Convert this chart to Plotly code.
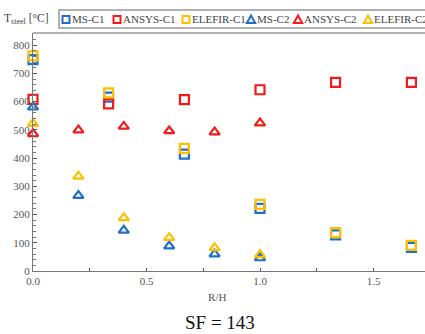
import plotly.graph_objects as go

# ---- data ----
x_c1 = [0.0, 0.333, 0.667, 1.0, 1.333, 1.667]
ms_c1 = [749, 616, 414, 222, 128, 84]
ansys_c1 = [608, 592, 607, 642, 668, 668]
elefir_c1 = [762, 631, 434, 236, 136, 91]

x_c2 = [0.0, 0.2, 0.4, 0.6, 0.8, 1.0]
ms_c2 = [580, 267, 144, 88, 60, 46]
ansys_c2 = [486, 499, 512, 496, 492, 524]
elefir_c2 = [522, 335, 188, 118, 82, 57]

names = ["MS-C1", "ANSYS-C1", "ELEFIR-C1", "MS-C2", "ANSYS-C2", "ELEFIR-C2"]
y_ticks = [0, 100, 200, 300, 400, 500, 600, 700, 800]
x_ticks = [0.0, 0.5, 1.0, 1.5]
x_tick_text = ["0.0", "0.5", "1.0", "1.5"]

BLUE = "#1f6fc6"
RED = "#f51a1a"
YEL = "#ffbf00"
colors = [BLUE, RED, YEL, BLUE, RED, YEL]
symbols = ["square-open"] * 3 + ["triangle-up-open"] * 3
series = [(x_c1, ms_c1), (x_c1, ansys_c1), (x_c1, elefir_c1),
          (x_c2, ms_c2), (x_c2, ansys_c2), (x_c2, elefir_c2)]

FONT = "Liberation Serif"

fig = go.Figure()
for (xs, ys), n, c, s in zip(series, names, colors, symbols):
    fig.add_trace(go.Scatter(
        x=xs, y=ys, name=n, mode="markers",
        marker=dict(symbol=s, size=9, color=c, line=dict(color=c, width=2.2)),
        showlegend=False, cliponaxis=False))

# plot-area geometry helpers (pixels)
L, R, T, B = 33, 425, 33, 271
W, H = R - L, B - T
def px(x):
    return (x - L) / W
def py(y):
    return (B - y) / H

fig.update_layout(
    width=425, height=334,
    margin=dict(l=L, r=425 - R, t=T, b=334 - B),
    paper_bgcolor="white", plot_bgcolor="white",
    font=dict(family=FONT, size=11, color="#444"),
    xaxis=dict(range=[0, (R - L) / 227.0], tickvals=x_ticks, ticktext=x_tick_text,
               showgrid=False, zeroline=False, showline=True, linecolor="#777",
               linewidth=1.2, mirror=False, ticks="inside", ticklen=3,
               tickcolor="#555", tickfont=dict(family=FONT, size=11, color="#555"),
               minor=dict(dtick=0.25, ticks="inside", ticklen=3, tickcolor="#555")),
    yaxis=dict(range=[0, 843], tickvals=y_ticks, showgrid=False, zeroline=False,
               showline=True, linecolor="#777", linewidth=1.2, ticks="inside",
               ticklen=4, tickcolor="#555",
               tickfont=dict(family=FONT, size=11, color="#555"),
               minor=dict(dtick=20, ticks="inside", ticklen=3, tickcolor="#777")),
)

# top frame line
fig.add_shape(type="line", xref="paper", yref="paper", x0=0, x1=1, y0=1, y1=1,
              line=dict(color="#999", width=1.5))

# legend box
fig.add_shape(type="rect", xref="paper", yref="paper",
              x0=px(59), x1=px(432), y0=py(28), y1=py(10),
              line=dict(color="#999", width=1.5), fillcolor="white")

# legend entries: marker shapes + text
item_cx = [66, 117, 186, 251, 298, 368]
cy = 19.5
for n, c, s, cx in zip(names, colors, symbols, item_cx):
    if "square" in s:
        fig.add_shape(type="rect", xref="paper", yref="paper",
                      x0=px(cx - 3.5), x1=px(cx + 3.5), y0=py(cy + 3.5), y1=py(cy - 3.5),
                      line=dict(color=c, width=2), fillcolor="white")
    else:
        path = (f"M {px(cx - 4.2)} {py(cy + 3.5)} L {px(cx + 4.2)} {py(cy + 3.5)} "
                f"L {px(cx)} {py(cy - 4)} Z")
        fig.add_shape(type="path", xref="paper", yref="paper", path=path,
                      line=dict(color=c, width=2), fillcolor="white")
    fig.add_annotation(
        xref="paper", yref="paper", x=px(cx + 4), y=py(cy), xanchor="left",
        yanchor="middle", showarrow=False, text=n,
        font=dict(family=FONT, size=11, color="#444"))

# y-axis label
fig.add_annotation(xref="paper", yref="paper", x=px(2), y=py(19), xanchor="left",
                   yanchor="middle", showarrow=False,
                   text="T<sub>steel</sub> [°C]",
                   font=dict(family=FONT, size=11.5, color="#444"))

# x-axis label
fig.add_annotation(xref="paper", yref="paper", x=px(217), y=py(297), xanchor="center",
                   yanchor="middle", showarrow=False, text="R/H",
                   font=dict(family=FONT, size=11, color="#555"))

# caption
fig.add_annotation(xref="paper", yref="paper", x=px(220), y=py(322), xanchor="center",
                   yanchor="middle", showarrow=False, text="SF = 143",
                   font=dict(family=FONT, size=19, color="#111"))

fig.write_html("out.html", config={"displayModeBar": False},
               post_script="document.body.style.margin='0';document.body.style.padding='0';")
